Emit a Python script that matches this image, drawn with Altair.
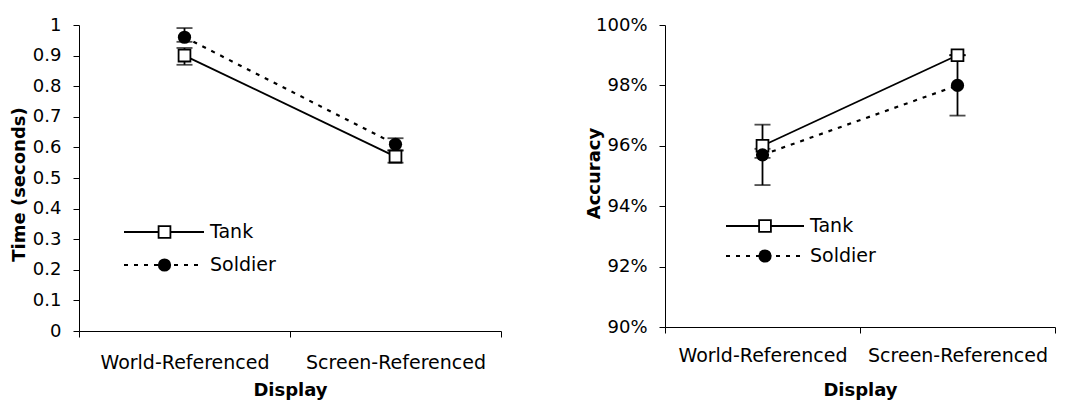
import altair as alt
import pandas as pd

# ---------------- data ----------------
categories = ["World-Referenced", "Screen-Referenced"]
series = ["Tank", "Soldier"]

time_tank = [0.90, 0.57]
time_tank_err_lo = [0.03, 0.02]
time_tank_err_hi = [0.025, 0.02]
time_soldier = [0.96, 0.61]
time_soldier_err_lo = [0.015, 0.02]
time_soldier_err_hi = [0.03, 0.02]

acc_tank = [0.960, 0.990]
acc_tank_err_lo = [0.004, 0.0]
acc_tank_err_hi = [0.007, 0.0]
acc_soldier = [0.957, 0.980]
acc_soldier_err_lo = [0.010, 0.010]
acc_soldier_err_hi = [0.002, 0.010]

time_ticks = [0, 0.1, 0.2, 0.3, 0.4, 0.5, 0.6, 0.7, 0.8, 0.9, 1]
acc_ticks = [0.90, 0.92, 0.94, 0.96, 0.98, 1.00]

FONT = "DejaVu Sans"
FS = 18
FS_X = 19


def build_df(tank, tank_lo, tank_hi, soldier, soldier_lo, soldier_hi):
    rows = []
    for s, vals, elo, ehi in (("Tank", tank, tank_lo, tank_hi),
                              ("Soldier", soldier, soldier_lo, soldier_hi)):
        for c, v, a, b in zip(categories, vals, elo, ehi):
            rows.append({"Display": c, "Series": s, "value": v, "lo": v - a, "hi": v + b})
    return pd.DataFrame(rows)


def panel(df, ytitle, ydomain, yticks, yfmt, width, height, ytitle_x, ytitle_y,
          xlab_pad, xtitle_y, leg):
    xenc = alt.X(
        "Display:N", sort=categories,
        scale=alt.Scale(type="band", paddingInner=0, paddingOuter=0),
        axis=alt.Axis(title="Display", labelAngle=0, tickBand="extent", tickSize=6,
                      labelPadding=xlab_pad, labelFontSize=FS_X, titleY=xtitle_y,
                      titleBaseline="middle", titleAlign="center"),
    )
    yaxis = alt.Axis(values=yticks, format=yfmt, tickSize=6, labelPadding=12,
                     titleX=ytitle_x, titleY=ytitle_y, titleAngle=-90,
                     titleAlign="center", titleBaseline="middle", grid=False)
    yscale = alt.Scale(domain=ydomain, nice=False, zero=False)

    def Y(field):
        return alt.Y(field, scale=yscale, axis=yaxis, title=ytitle)

    base = alt.Chart(df)
    err = base.mark_rule(color="black", strokeWidth=1.8).encode(
        x=xenc, y=Y("lo:Q"), y2="hi:Q")
    cap_lo = base.mark_tick(color="black", size=16, thickness=1.8, orient="horizontal").encode(
        x=xenc, y=Y("lo:Q"))
    cap_hi = base.mark_tick(color="black", size=16, thickness=1.8, orient="horizontal").encode(
        x=xenc, y=Y("hi:Q"))
    line_t = base.transform_filter(alt.datum.Series == "Tank").mark_line(
        color="black", strokeWidth=1.8).encode(x=xenc, y=Y("value:Q"))
    line_s = base.transform_filter(alt.datum.Series == "Soldier").mark_line(
        color="black", strokeWidth=2.2, strokeDash=[4, 6]).encode(x=xenc, y=Y("value:Q"))
    pt_t = base.transform_filter(alt.datum.Series == "Tank").mark_point(
        shape="square", filled=True, fill="white", stroke="black", strokeWidth=1.8,
        size=140, opacity=1).encode(x=xenc, y=Y("value:Q"))
    pt_s = base.transform_filter(alt.datum.Series == "Soldier").mark_point(
        shape="circle", filled=True, color="black", size=175, opacity=1).encode(
        x=xenc, y=Y("value:Q"))

    # legend (drawn inside the plot)
    lx0, lx1, lxm, ltx, ly_t, ly_s = leg
    ldf_t = pd.DataFrame({"s": [series[0]]})
    ldf_s = pd.DataFrame({"s": [series[1]]})
    lg = [
        alt.Chart(ldf_t).mark_rule(color="black", strokeWidth=1.8).encode(
            x=alt.value(lx0), x2=alt.value(lx1), y=alt.value(ly_t)),
        alt.Chart(ldf_s).mark_rule(color="black", strokeWidth=2.2, strokeDash=[4, 6]).encode(
            x=alt.value(lx0), x2=alt.value(lx1), y=alt.value(ly_s)),
        alt.Chart(ldf_t).mark_point(shape="square", filled=True, fill="white",
                                    stroke="black", strokeWidth=1.8, size=140,
                                    opacity=1).encode(x=alt.value(lxm), y=alt.value(ly_t)),
        alt.Chart(ldf_s).mark_point(shape="circle", filled=True, color="black",
                                    size=175, opacity=1).encode(x=alt.value(lxm), y=alt.value(ly_s)),
        alt.Chart(ldf_t).mark_text(align="left", baseline="middle", font=FONT,
                                   fontSize=FS_X, color="black").encode(
            x=alt.value(ltx), y=alt.value(ly_t), text="s:N"),
        alt.Chart(ldf_s).mark_text(align="left", baseline="middle", font=FONT,
                                   fontSize=FS_X, color="black").encode(
            x=alt.value(ltx), y=alt.value(ly_s), text="s:N"),
    ]

    return alt.layer(err, cap_lo, cap_hi, line_t, line_s, pt_t, pt_s, *lg).properties(
        width=width, height=height)


time_df = build_df(time_tank, time_tank_err_lo, time_tank_err_hi,
                   time_soldier, time_soldier_err_lo, time_soldier_err_hi)
acc_df = build_df(acc_tank, acc_tank_err_lo, acc_tank_err_hi,
                  acc_soldier, acc_soldier_err_lo, acc_soldier_err_hi)

left = panel(time_df, "Time (seconds)", [0, 1], time_ticks, "~g", 422, 306,
             -60, 159, 16, 59, (45, 125, 85.5, 131, 207, 240))
right = panel(acc_df, "Accuracy", [0.90, 1.00], acc_ticks, ".0%", 390, 302,
              -71, 148, 13, 63, (61, 139, 100, 145, 201, 231))

chart = alt.hconcat(left, right, spacing=83).properties(
    padding={"left": 2, "top": 8, "right": 5, "bottom": 5}
).configure_view(stroke=None).configure_axis(
    labelFont=FONT, titleFont=FONT, labelFontSize=FS, titleFontSize=FS,
    titleFontWeight="bold", labelColor="black", titleColor="black",
    domainColor="black", tickColor="black", domainWidth=1, tickWidth=1, grid=False
)

chart.save("out.html", embed_options={"renderer": "svg", "actions": False})
